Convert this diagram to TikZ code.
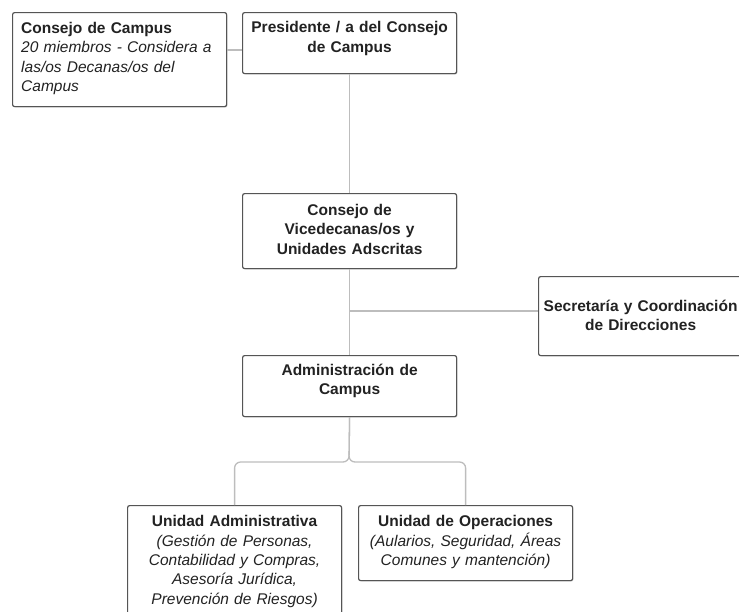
\documentclass[tikz,border=0pt]{standalone}
\usepackage{fontspec}
\setmainfont{Liberation Sans}
\usetikzlibrary{calc,shadows}
\definecolor{boxline}{HTML}{555555}
\definecolor{linegray}{HTML}{BDBDBD}
\definecolor{ink}{HTML}{222222}
\tikzset{
  box/.style={draw=boxline, line width=1.2pt, rounded corners=2pt, fill=white,
    anchor=north west, inner sep=0pt,
    drop shadow={shadow xshift=0.9pt, shadow yshift=-0.9pt, opacity=0.3}},
  txt/.style={anchor=north, inner sep=0pt, text=ink,
    font=\fontsize{15.5}{19.3}\selectfont, text width=212pt, align=center},
  ltxt/.style={txt, anchor=north west, align=left, text width=205pt},
  link/.style={draw=linegray, line width=1.3pt},
}
\begin{document}
\begin{tikzpicture}[x=1pt,y=-1pt]
\useasboundingbox (0,0) rectangle (739,611);
\clip (0,0) rectangle (739,611);
% boxes
\node[box, minimum width=214pt, minimum height=94pt] (cc) at (12,12) {};
\node[box, minimum width=214pt, minimum height=61pt] (pres) at (242,12) {};
\node[box, minimum width=214pt, minimum height=75pt] (vice) at (242,193) {};
\node[box, minimum width=214pt, minimum height=79pt] (sec) at (538,276) {};
\node[box, minimum width=214pt, minimum height=61pt] (adm) at (242,355) {};
\node[box, minimum width=214pt, minimum height=112pt] (ua) at (127,505) {};
\node[box, minimum width=214pt, minimum height=75pt] (uo) at (358,505) {};
% texts
\node[ltxt] (cct) at ($(cc.north west)+(9,10)$) {\textbf{Consejo de Campus}\\\textit{20 miembros - Considera a}\\\textit{las/os Decanas/os del}\\\textit{Campus}};
\node[txt] (prest) at ($(pres.north)+(0,9.5)$) {\textbf{Presidente / a del Consejo}\\\textbf{de Campus}};
\node[txt] (vicet) at ($(vice.north)+(0,11)$) {\textbf{Consejo de}\\\textbf{Vicedecanas/os y}\\\textbf{Unidades Adscritas}};
\node[txt] (sect) at ($(sec.north)+(-5,23.5)$) {\textbf{Secretaría y Coordinación}\\\textbf{de Direcciones}};
\node[txt] (admt) at ($(adm.north)+(0,9)$) {\textbf{Administración de}\\\textbf{Campus}};
\node[txt] (uat) at ($(ua.north)+(0,10.5)$) {\textbf{Unidad Administrativa}\\\textit{(Gestión de Personas,}\\\textit{Contabilidad y Compras,}\\\textit{Asesoría Jurídica,}\\\textit{Prevención de Riesgos)}};
\node[txt] (uot) at ($(uo.north)+(0,10.5)$) {\textbf{Unidad de Operaciones}\\\textit{(Aularios, Seguridad, Áreas}\\\textit{Comunes y mantención)}};
% connectors
\coordinate (y50) at (0,50);
\coordinate (J) at (349,311);
\coordinate (F) at (349,462);
\draw[link] (cc.east |- y50) -- (pres.west |- y50);
\draw[link] (pres.south) -- (vice.north);
\draw[link] (vice.south) -- (adm.north);
\draw[link] (J) -- (J -| sec.west);
\draw[link, rounded corners=6pt] (adm.south) -- (F) -| (ua.north);
\draw[link, rounded corners=6pt] (adm.south) -- (F) -| (uo.north);
\end{tikzpicture}
\end{document}
